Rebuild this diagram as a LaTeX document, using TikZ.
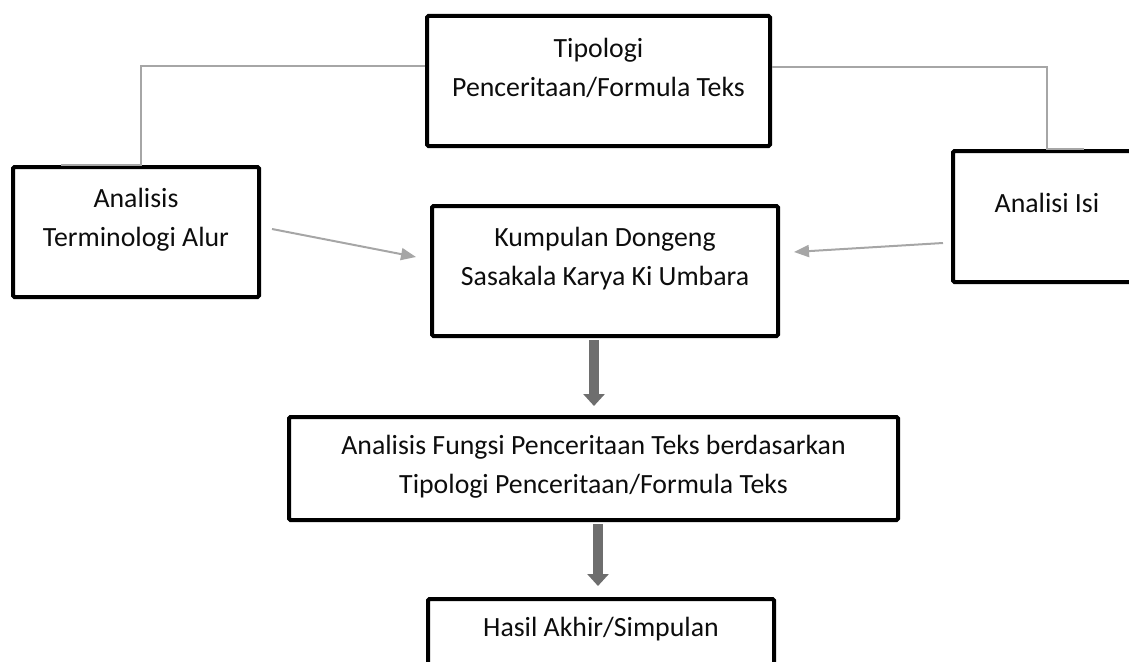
\documentclass[tikz,border=0pt]{standalone}
\usepackage{fontspec}
\setmainfont{Carlito}
\usetikzlibrary{arrows.meta,calc}
\begin{document}
\begin{tikzpicture}[x=1pt,y=-1pt,
  box/.style={draw=black,line width=4pt,rounded corners=1.5pt,inner sep=0pt},
  txt/.style={align=center,inner sep=0pt,font=\fontsize{27.8}{39}\selectfont,text=black!95},
  gline/.style={draw=black!35,line width=2pt},
  garrow/.style={gline,-{Triangle[length=15pt,width=12pt]}},
  tarrow/.style={draw=black!57,line width=9.5pt,-{Triangle[length=12pt,width=21pt]}}]
\useasboundingbox (0,0) rectangle (1129,661);
\clip (0,0) rectangle (1129,661);
% boxes
\node[box,minimum width=343pt,minimum height=130pt] (tip) at (598.5,81) {};
\node[box,minimum width=246pt,minimum height=130pt] (left) at (136,232) {};
\node[box,minimum width=346pt,minimum height=130pt] (kump) at (605,271) {};
\node[box,minimum width=192pt,minimum height=131pt] (isi) at (1049,216.5) {};
\node[box,minimum width=609pt,minimum height=103pt] (fungsi) at (593.5,468.5) {};
\node[box,minimum width=346pt,minimum height=101pt] (hasil) at (601,649.5) {};
% texts
\node[txt] (tipt) at (598.5,67.5) {Tipologi\\Penceritaan/Formula Teks};
\node[txt] (leftt) at (136,220) {Analisis\\Terminologi Alur};
\node[txt] (kumpt) at (605,258.5) {Kumpulan Dongeng\\Sasakala Karya Ki Umbara};
\node[txt] (isit) at (1047,203) {Analisi Isi};
\node[txt] (fungsit) at (593.5,467) {Analisis Fungsi Penceritaan Teks berdasarkan\\Tipologi Penceritaan/Formula Teks};
\node[txt] (hasilt) at (601,629) {Hasil Akhir/Simpulan};
% connectors
\draw[gline] ([yshift=15pt]tip.west) -| ([xshift=5pt]left.north) -- ++(-80,0);
\draw[gline] ([yshift=14pt]tip.east) -| ([xshift=-2pt]isi.north) -- ++(37,0);
\draw[garrow] ($(left.east)+(11,-3)$) -- ($(kump.west)+(-14,-14)$);
\draw[garrow] ($(isi.west)+(-8,26.5)$) -- ($(kump.east)+(14,-19)$);
\draw[tarrow] ($(kump.south)+(-11,2)$) -- ($(fungsi.north)+(0.5,-9)$);
\draw[tarrow] ($(fungsi.south)+(4.5,2)$) -- ($(hasil.north)+(-3,-11)$);
\end{tikzpicture}
\end{document}
